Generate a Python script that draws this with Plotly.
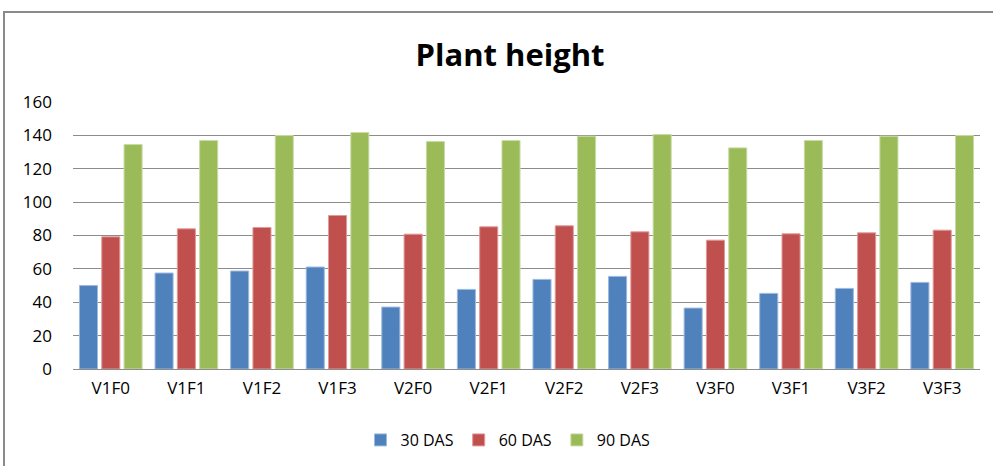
import plotly.graph_objects as go

categories = ["V1F0", "V1F1", "V1F2", "V1F3", "V2F0", "V2F1", "V2F2", "V2F3",
              "V3F0", "V3F1", "V3F2", "V3F3"]
das30 = [50.0, 57.5, 58.7, 61.1, 37.1, 47.7, 53.7, 55.5, 36.5, 45.3, 48.3, 51.9]
das60 = [79.2, 84.0, 84.8, 92.0, 80.8, 85.2, 85.8, 82.2, 77.2, 81.0, 81.6, 83.2]
das90 = [134.5, 136.9, 139.9, 141.7, 136.3, 136.9, 139.5, 140.5, 132.5, 136.9, 139.5, 139.9]
series_names = ["30 DAS", "60 DAS", "90 DAS"]
colors = ["#4F81BD", "#C0504D", "#9BBB59"]
edge_colors = ["#9DB9DC", "#E09A98", "#C8DBA4"]
y_ticks = [0, 20, 40, 60, 80, 100, 120, 140, 160]

FONT = "'Open Sans', Lato, sans-serif"

fig = go.Figure()
for name, vals, c, ec in zip(series_names, [das30, das60, das90], colors, edge_colors):
    fig.add_trace(go.Bar(
        x=categories, y=vals, name=name,
        marker=dict(color=c, line=dict(color=ec, width=1)),
    ))

W, H = 993, 466
ml, mr, mt, mb = 73, 13, 102, 97
pw, ph = W - ml - mr, H - mt - mb

fig.update_layout(
    width=W, height=H,
    margin=dict(l=ml, r=mr, t=mt, b=mb, autoexpand=False),
    paper_bgcolor="white", plot_bgcolor="white",
    barmode="group", bargap=0.115, bargroupgap=0.19,
    font=dict(family=FONT, size=16, color="#000000"),
    title=dict(text="<b>Plant height</b>", x=510 / W, xanchor="center",
               y=1 - 55 / H, yanchor="middle",
               font=dict(family=FONT, size=31, color="#000000")),
    xaxis=dict(showgrid=False, showline=True, linecolor="#8c8c8c", linewidth=1,
               ticks="", tickfont=dict(size=17), ticklabelstandoff=4,
               automargin=False),
    yaxis=dict(range=[0, 160], tickvals=y_ticks, showgrid=True,
               gridcolor="#8c8c8c", gridwidth=1, zeroline=False,
               showline=False, ticks="", tickfont=dict(size=17),
               ticklabelstandoff=20, automargin=False),
    legend=dict(orientation="h", x=(508 - ml) / pw, xanchor="center",
                y=-(440 - (H - mb)) / ph, yanchor="middle",
                font=dict(size=16), itemwidth=30, traceorder="normal"),
    showlegend=True,
)

# outer chart border
fig.add_shape(type="rect", xref="paper", yref="paper",
              x0=(4 - ml) / pw, x1=(1000 - ml) / pw,
              y0=-(480 - (H - mb)) / ph, y1=1 + (mt - 12) / ph,
              line=dict(color="#8a8a8a", width=2), layer="below")

fig.write_html("out.html",
               config={"displayModeBar": False},
               post_script="document.body.style.margin='0';document.body.style.overflow='hidden';")
